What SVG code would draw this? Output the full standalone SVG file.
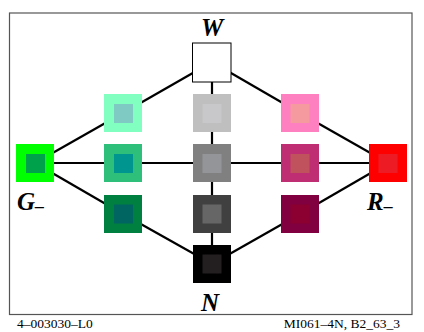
<svg xmlns="http://www.w3.org/2000/svg" width="424" height="332" viewBox="0 0 424 332">
<style>
.lbl{font-family:"Liberation Serif","Times New Roman",serif;font-weight:bold;font-style:italic;font-size:25px;fill:#000}
.sub{font-size:18px}
.foot{font-family:"Liberation Serif","Times New Roman",serif;font-size:13.5px;fill:#000}
.edge{stroke:#000;stroke-width:2.2;fill:none}
</style>
<rect x="0" y="0" width="424" height="332" fill="#fff"/>
<rect x="9.5" y="13" width="402.5" height="301.5" fill="none" stroke="#555" stroke-width="1.2"/>
<g id="connectors">
<line class="edge" x1="212" y1="62" x2="212" y2="264"/>
<line class="edge" x1="35" y1="163" x2="388" y2="163"/>
<line class="edge" x1="212" y1="62" x2="123" y2="113"/>
<line class="edge" x1="123" y1="113" x2="35" y2="163"/>
<line class="edge" x1="35" y1="163" x2="123" y2="214"/>
<line class="edge" x1="123" y1="214" x2="212" y2="264"/>
<line class="edge" x1="212" y1="62" x2="300" y2="113"/>
<line class="edge" x1="300" y1="113" x2="388" y2="163"/>
<line class="edge" x1="388" y1="163" x2="300" y2="214"/>
<line class="edge" x1="300" y1="214" x2="212" y2="264"/>
</g>
<g id="W">
<rect x="192.5" y="43" width="38.5" height="39" fill="#fff" stroke="#000" stroke-width="1"/>
<text class="lbl" x="212" y="35.5" text-anchor="middle">W</text>
</g>
<g id="c1l"><rect x="104" y="94" width="38" height="38" fill="#80ffc0"/><rect x="114" y="104" width="19" height="19" fill="#7fcbc4"/></g>
<g id="c1m"><rect x="193" y="94" width="38" height="38" fill="#bfbfbf"/><rect x="202.5" y="104" width="19" height="19" fill="#c8c8ca"/></g>
<g id="c1r"><rect x="281" y="94" width="38" height="38" fill="#ff80c0"/><rect x="290.5" y="104" width="19" height="19" fill="#f59a9e"/></g>
<g id="G">
<rect x="16" y="144" width="38" height="38" fill="#00ff00"/><rect x="26" y="154" width="19" height="19" fill="#00a14b"/>
<text class="lbl" x="17" y="210">G<tspan class="sub" dy="2">–</tspan></text>
</g>
<g id="c2l"><rect x="104" y="144" width="38" height="38" fill="#2ebf7a"/><rect x="114" y="154" width="19" height="19" fill="#00958f"/></g>
<g id="c2m"><rect x="193" y="144" width="38" height="38" fill="#808080"/><rect x="202.5" y="154" width="19" height="19" fill="#939598"/></g>
<g id="c2r"><rect x="281" y="144" width="38" height="38" fill="#bf2e72"/><rect x="290.5" y="154" width="19" height="19" fill="#bf525c"/></g>
<g id="R">
<rect x="369" y="144" width="38" height="38" fill="#ff0000"/><rect x="378.5" y="154" width="19" height="19" fill="#ed1c24"/>
<text class="lbl" x="367" y="210">R<tspan class="sub" dy="2">–</tspan></text>
</g>
<g id="c3l"><rect x="104" y="195" width="38" height="38" fill="#008040"/><rect x="114" y="204.5" width="19" height="19" fill="#006461"/></g>
<g id="c3m"><rect x="193" y="195" width="38" height="38" fill="#404040"/><rect x="202.5" y="204.5" width="19" height="19" fill="#666666"/></g>
<g id="c3r"><rect x="281" y="195" width="38" height="38" fill="#800040"/><rect x="290.5" y="204.5" width="19" height="19" fill="#8b0030"/></g>
<g id="N">
<rect x="193" y="245" width="38" height="38" fill="#000000"/><rect x="202.5" y="254.5" width="19" height="19" fill="#231f20"/>
<text class="lbl" x="210" y="310.5" text-anchor="middle">N</text>
</g>
<text class="foot" x="17" y="328">4–003030–L0</text>
<text class="foot" x="400" y="328" text-anchor="end">MI061–4N, B2_63_3</text>
</svg>
